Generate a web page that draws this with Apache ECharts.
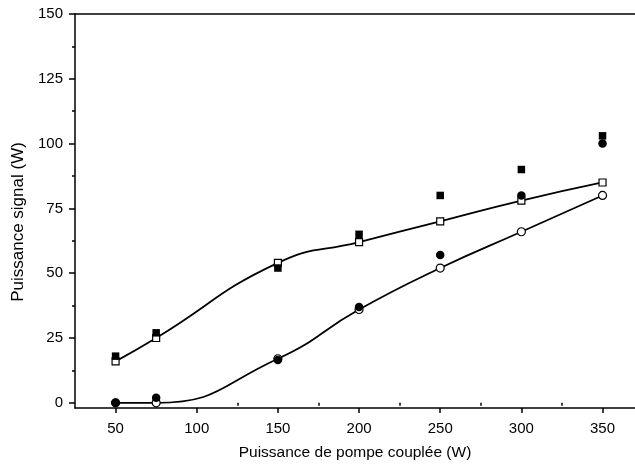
<!DOCTYPE html>
<html>
<head>
<meta charset="utf-8">
<script src="https://cdn.jsdelivr.net/npm/echarts@6/dist/echarts.min.js"></script>
<style>
html,body{margin:0;padding:0;background:#fff;}
#chart{width:635px;height:466px;}
</style>
</head>
<body>
<div id="chart"></div>
<script>
const xValues = [50, 75, 150, 200, 250, 300, 350];
const filledSquares = [18, 27, 52, 65, 80, 90, 103];
const openSquares = [16, 25, 54, 62, 70, 78, 85];
const filledCircles = [0, 2, 16.5, 37, 57, 80, 100];
const openCircles = [0, 0, 17, 36, 52, 66, 80];
const xTickLabels = [50, 100, 150, 200, 250, 300, 350];
const yTickLabels = [0, 25, 50, 75, 100, 125, 150];
const xAxisTitle = 'Puissance de pompe couplée (W)';
const yAxisTitle = 'Puissance signal (W)';

const xMinor = xTickLabels.slice(0, -1).map(v => v + 25);
const yMinor = yTickLabels.slice(0, -1).map(v => v + 12.5);
const pairs = ys => xValues.map((x, i) => [x, ys[i]]);

const FONT = 'Liberation Sans, Arial, sans-serif';
const lineC = '#000';
const X_MIN = 25, X_MAX = 370, Y_MIN = -2, Y_MAX = 150;

const chart = echarts.init(document.getElementById('chart'), null, {renderer: 'canvas'});
chart.setOption({
  animation: false,
  backgroundColor: '#fff',
  grid: {left: 75, top: 14, right: 0, bottom: 58, containLabel: false},
  xAxis: [
    {
      type: 'value', min: X_MIN, max: X_MAX, position: 'bottom',
      name: xAxisTitle, nameLocation: 'middle', nameGap: 37,
      nameTextStyle: {fontFamily: FONT, fontSize: 15.5, color: '#000'},
      axisLine: {show: true, onZero: false, lineStyle: {color: lineC, width: 1.5}},
      axisTick: {show: true, customValues: xTickLabels, length: 5, lineStyle: {color: lineC, width: 1.5}},
      axisLabel: {show: true, customValues: xTickLabels, margin: 13, fontFamily: FONT, fontSize: 15, color: '#000'},
      splitLine: {show: false}
    },
    {
      type: 'value', min: X_MIN, max: X_MAX, position: 'bottom',
      axisLine: {show: false},
      axisTick: {show: true, customValues: xMinor, length: 3, lineStyle: {color: lineC, width: 1.5}},
      axisLabel: {show: false},
      splitLine: {show: false}
    },
    {
      type: 'value', min: X_MIN, max: X_MAX, position: 'top',
      axisLine: {show: true, onZero: false, lineStyle: {color: lineC, width: 1.5}},
      axisTick: {show: false},
      axisLabel: {show: false},
      splitLine: {show: false}
    }
  ],
  yAxis: [
    {
      type: 'value', min: Y_MIN, max: Y_MAX, position: 'left',
      name: yAxisTitle, nameLocation: 'middle', nameGap: 48, nameRotate: 90,
      nameTextStyle: {fontFamily: FONT, fontSize: 17, color: '#000', padding: [0, 22, 0, 0]},
      axisLine: {show: true, onZero: false, lineStyle: {color: lineC, width: 1.5}},
      axisTick: {show: true, customValues: yTickLabels, length: 6, lineStyle: {color: lineC, width: 1.5}},
      axisLabel: {show: true, customValues: yTickLabels, margin: 12, fontFamily: FONT, fontSize: 15, color: '#000'},
      splitLine: {show: false}
    },
    {
      type: 'value', min: Y_MIN, max: Y_MAX, position: 'left',
      axisLine: {show: false},
      axisTick: {show: true, customValues: yMinor, length: 3, lineStyle: {color: lineC, width: 1.5}},
      axisLabel: {show: false},
      splitLine: {show: false}
    }
  ],
  series: [
    {
      type: 'line', name: 'open squares', data: pairs(openSquares), smooth: 0.5,
      xAxisIndex: 0, yAxisIndex: 0, z: 2,
      symbol: 'rect', symbolSize: 7, showAllSymbol: true,
      lineStyle: {color: '#000', width: 1.8},
      itemStyle: {color: '#fff', borderColor: '#000', borderWidth: 1.2}
    },
    {
      type: 'line', name: 'open circles', data: pairs(openCircles), smooth: 0.5,
      xAxisIndex: 0, yAxisIndex: 0, z: 2,
      symbol: 'circle', symbolSize: 8, showAllSymbol: true,
      lineStyle: {color: '#000', width: 1.8},
      itemStyle: {color: '#fff', borderColor: '#000', borderWidth: 1.2}
    },
    {
      type: 'scatter', name: 'filled squares', data: pairs(filledSquares),
      xAxisIndex: 0, yAxisIndex: 0, z: 3,
      symbol: 'rect', symbolSize: 7.5,
      itemStyle: {color: '#000', opacity: 1}
    },
    {
      type: 'scatter', name: 'filled circles', data: pairs(filledCircles),
      xAxisIndex: 0, yAxisIndex: 0, z: 3,
      symbol: 'circle', symbolSize: 8.5,
      itemStyle: {color: '#000', opacity: 1}
    }
  ]
});
</script>
</body>
</html>
